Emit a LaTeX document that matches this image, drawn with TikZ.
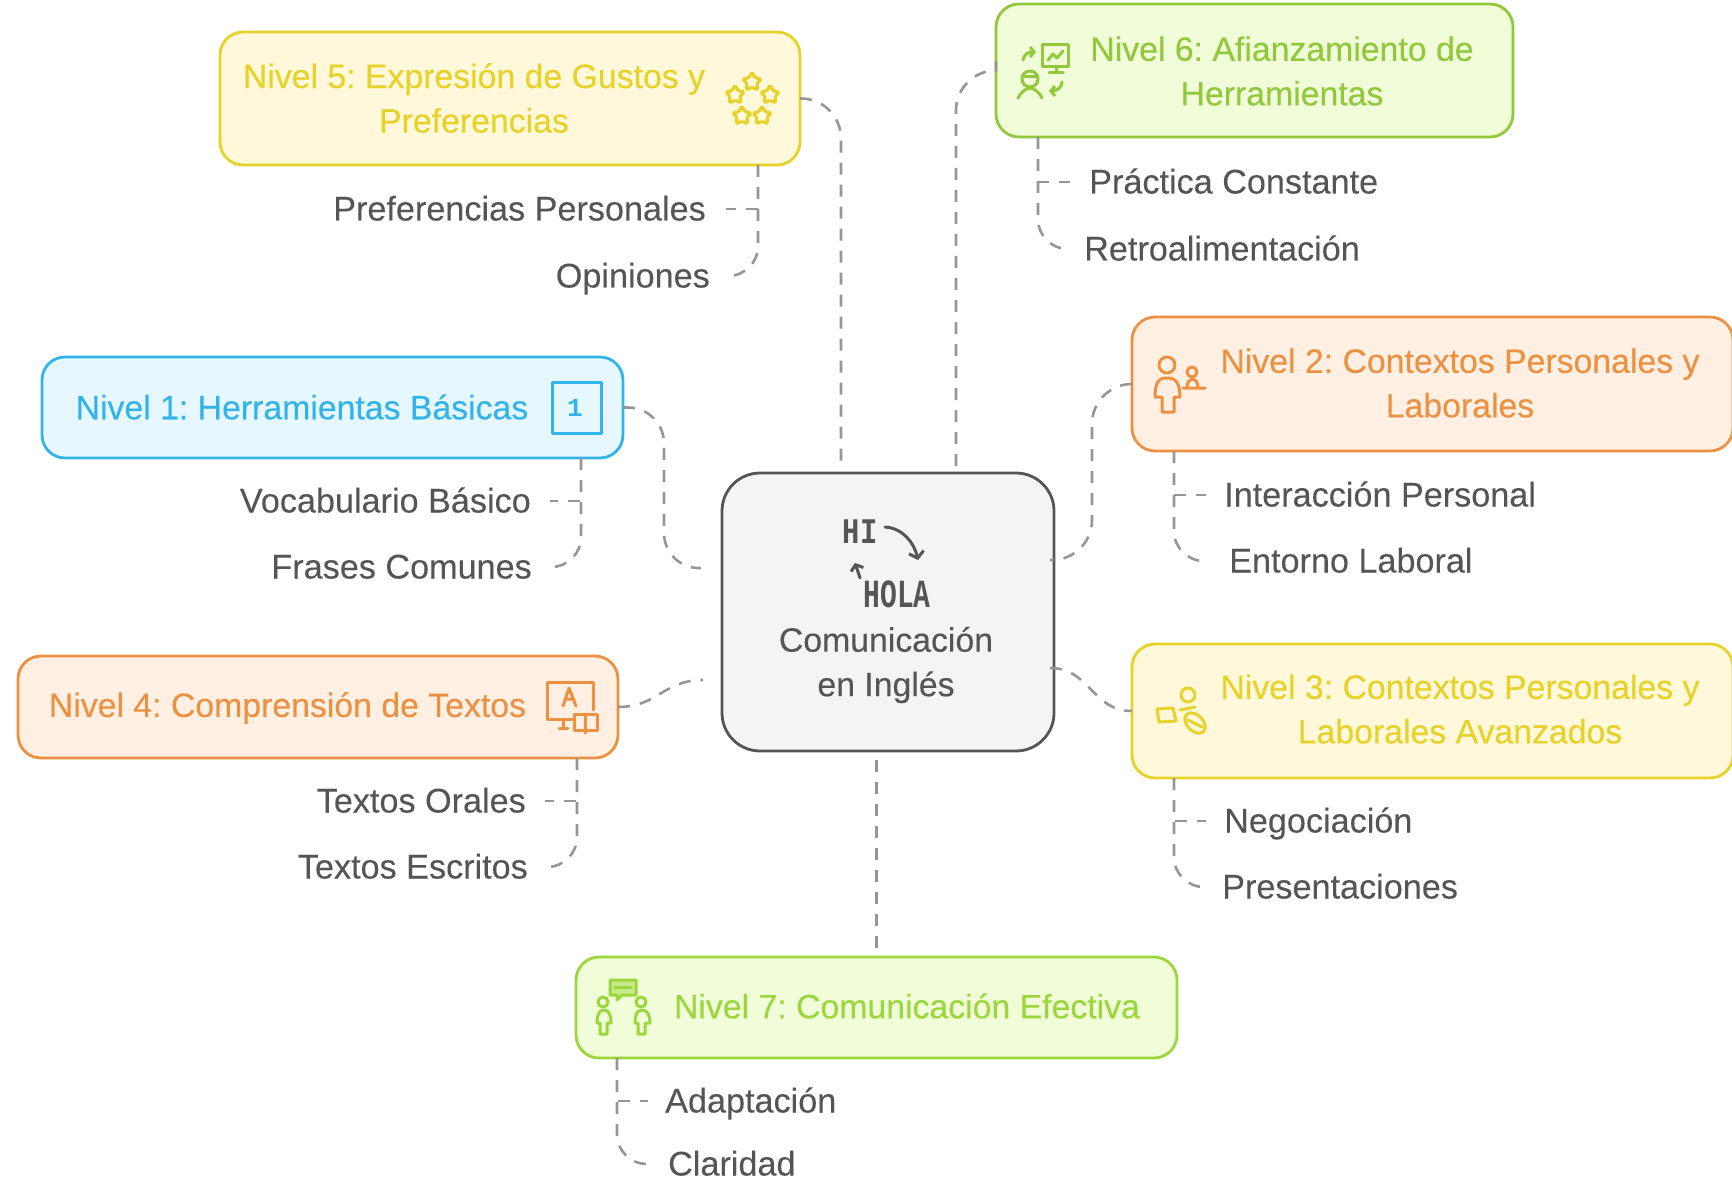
\documentclass[tikz,border=0pt]{standalone}
\usepackage{fontspec}
\setmainfont{Liberation Sans}
\newfontfamily\titlefont[FakeBold=0.2]{Liberation Sans}
\newfontfamily\leaffont[FakeBold=0.08]{Liberation Sans}
\newfontfamily\iconfont{Liberation Mono}
\usetikzlibrary{arrows.meta, shapes.geometric}
\tikzset{>=latex}
\definecolor{myyellow}{RGB}{230, 210, 40}
\definecolor{myyellowbg}{RGB}{255, 248, 218}
\definecolor{mygreen}{RGB}{145, 200, 60}
\definecolor{mygreenbg}{RGB}{240, 253, 216}
\definecolor{mylime}{RGB}{155, 215, 60}
\definecolor{myblue}{RGB}{50, 180, 232}
\definecolor{mybluebg}{RGB}{230, 247, 255}
\definecolor{myorange}{RGB}{235, 145, 65}
\definecolor{myorangebg}{RGB}{255, 240, 227}
\definecolor{mygray1}{RGB}{244, 244, 244}
\definecolor{mygray2}{RGB}{85, 85, 85}
\definecolor{mygray3}{RGB}{150, 150, 150}
\begin{document}
\frenchspacing
\begin{tikzpicture}[
    x = 1pt, y = -1pt,
    box/.style = {draw, rounded corners = 23pt, line width = 2.8pt, inner sep = 0pt, outer sep = 0pt},
    title/.style = {align = center, inner sep = 0pt, font = \titlefont\fontsize{33.8}{44.5}\selectfont},
    leaf/.style = {inner sep = 0pt, text = mygray2, text height = 23pt, text depth = 0pt, font = \leaffont\fontsize{34.2}{44.5}\selectfont},
    link/.style = {draw = mygray3, line width = 2.6pt, dash pattern = on 12pt off 10pt},
    ic/.style = {line width = 3pt, line join = round, line cap = round},
]

\useasboundingbox (0,0) rectangle (1732,1182);

% boxes
\node[box, draw = myyellow, fill = myyellowbg, minimum width = 580, minimum height = 133] (nivel5) at (510, 98.5) {};
\node[box, draw = mygreen, fill = mygreenbg, minimum width = 517, minimum height = 133] (nivel6) at (1254.5, 70.5) {};
\node[box, draw = myblue, fill = mybluebg, minimum width = 581, minimum height = 101] (nivel1) at (332.5, 407.5) {};
\node[box, draw = myorange, fill = myorangebg, minimum width = 600, minimum height = 102] (nivel4) at (318, 707) {};
\node[box, draw = myorange, fill = myorangebg, minimum width = 601, minimum height = 134] (nivel2) at (1432.5, 384) {};
\node[box, draw = myyellow, fill = myyellowbg, minimum width = 601, minimum height = 134] (nivel3) at (1432.5, 711) {};
\node[box, draw = mylime, fill = mygreenbg, minimum width = 601, minimum height = 101] (nivel7) at (876.5, 1007.5) {};
\node[box, draw = mygray2, fill = mygray1, rounded corners = 38pt, minimum width = 332, minimum height = 278] (centre) at (888, 612) {};

% titles
\node[title, text = myyellow] (title5) at (474, 98) {Nivel 5: Expresi\'on de Gustos y\\Preferencias};
\node[title, text = mygreen] (title6) at (1282, 71) {Nivel 6: Afianzamiento de\\Herramientas};
\node[title, text = myblue] (title1) at (302, 407) {Nivel 1: Herramientas B\'asicas};
\node[title, text = myorange] (title4) at (287.5, 708) {Nivel 4: Comprensi\'on de Textos};
\node[title, text = myorange] (title2) at (1460, 383) {Nivel 2: Contextos Personales y\\Laborales};
\node[title, text = myyellow] (title3) at (1460, 709) {Nivel 3: Contextos Personales y\\Laborales Avanzados};
\node[title, text = mylime] (title7) at (907, 1006) {Nivel 7: Comunicaci\'on Efectiva};
\node[title, text = mygray2] (titlec) at (886, 665) {Comunicaci\'on\\en Ingl\'es};

% leaves
\node[leaf, anchor = east] (pref) at (706, 209) {Preferencias Personales};
\node[leaf, anchor = east] (opin) at (710, 276) {Opiniones};
\node[leaf, anchor = west] (prac) at (1089, 182) {Pr\'actica Constante};
\node[leaf, anchor = west] (retro) at (1084, 249) {Retroalimentaci\'on};
\node[leaf, anchor = east] (voca) at (531, 501) {Vocabulario B\'asico};
\node[leaf, anchor = east] (frases) at (532, 567) {Frases Comunes};
\node[leaf, anchor = east] (orales) at (526, 801) {Textos Orales};
\node[leaf, anchor = east] (escritos) at (528, 867) {Textos Escritos};
\node[leaf, anchor = west] (inter) at (1224, 495) {Interacci\'on Personal};
\node[leaf, anchor = west] (entorno) at (1229, 561) {Entorno Laboral};
\node[leaf, anchor = west] (nego) at (1224, 821) {Negociaci\'on};
\node[leaf, anchor = west] (pres) at (1222, 887) {Presentaciones};
\node[leaf, anchor = west] (adap) at (665, 1101) {Adaptaci\'on};
\node[leaf, anchor = west] (clar) at (668, 1164) {Claridad};

% links to the centre
\draw[link, rounded corners = 40pt, shorten > = 11pt] (nivel5.east) -| ([xshift = -47pt]centre.north);
\draw[link, rounded corners = 40pt, shorten < = 7pt, shorten > = 9pt] ([xshift = 68pt]centre.north) |- (nivel6.west);
\draw[link, rounded corners = 36pt] (nivel1.east) -- ++(41, 0) -- ++(0, 161.5) -- ([xshift = -21pt, yshift = 44pt]centre.west);
\draw[link] (nivel4.east) .. controls +(40, 0) and +(-40, 0) .. ([xshift = -19pt, yshift = -68pt]centre.west);
\draw[link, rounded corners = 40pt] (nivel2.west) -- ++(-40, 0) -- ++(0, 176) -- ([xshift = -4pt, yshift = 52pt]centre.east);
\draw[link] ([xshift = -4pt, yshift = -56pt]centre.east) .. controls +(40, 0) and +(-40, 0) .. (nivel3.west);
\draw[link, shorten < = 9pt] (nivel7.north |- centre.south) -- (nivel7.north);

% links to the leaves
\draw[link, shorten > = 20pt] ([xshift = -42pt]nivel5.south east) |- (pref.east);
\draw[link, rounded corners = 30pt, shorten > = 16pt] ([xshift = -42pt]nivel5.south east) |- (opin.east);
\draw[link, shorten > = 19pt] ([xshift = 42pt]nivel6.south west) |- (prac.west);
\draw[link, rounded corners = 30pt, shorten > = 14pt] ([xshift = 42pt]nivel6.south west) |- (retro.west);
\draw[link, shorten > = 19pt] ([xshift = -42pt]nivel1.south east) |- (voca.east);
\draw[link, rounded corners = 30pt, shorten > = 16pt] ([xshift = -42pt]nivel1.south east) |- (frases.east);
\draw[link, shorten > = 19pt] ([xshift = -41pt]nivel4.south east) |- (orales.east);
\draw[link, rounded corners = 30pt, shorten > = 16pt] ([xshift = -41pt]nivel4.south east) |- (escritos.east);
\draw[link, shorten > = 18pt] ([xshift = 42pt]nivel2.south west) |- (inter.west);
\draw[link, rounded corners = 30pt, shorten > = 21pt] ([xshift = 42pt]nivel2.south west) |- (entorno.west);
\draw[link, shorten > = 18pt] ([xshift = 42pt]nivel3.south west) |- (nego.west);
\draw[link, rounded corners = 30pt, shorten > = 16pt] ([xshift = 42pt]nivel3.south west) |- (pres.west);
\draw[link, shorten > = 17pt] ([xshift = 41pt]nivel7.south west) |- (adap.west);
\draw[link, rounded corners = 30pt, shorten > = 20pt] ([xshift = 41pt]nivel7.south west) |- (clar.west);

% icon of the centre
\node[inner sep = 0pt, text = mygray2] (hi) at (860, 532) {\iconfont\bfseries\fontsize{36}{36}\selectfont\scalebox{0.8}[1]{HI}};
\node[inner sep = 0pt, text = mygray2] (hola) at (897, 594) {\iconfont\bfseries\fontsize{40}{40}\selectfont\scalebox{0.7}[1]{HOLA}};
\draw[ic, mygray2, -{Straight Barb[length = 6pt, width = 15pt]}] (885, 527) .. controls (902, 528) and (914, 542) .. (918, 560);
\draw[ic, mygray2, -{Straight Barb[length = 5pt, width = 13pt]}] (860, 578) -- (855, 563);

% icon of level 5
\foreach \sx/\sy/\sn in {752/82/a, 735/95/b, 770/95/c, 742/116/d, 762/116/e}
    \node[star, star points = 5, star point ratio = 1.8, draw = myyellow, line width = 3.2pt, rounded corners = 1.5pt, minimum size = 19pt, inner sep = 0pt] (star\sn) at (\sx, \sy) {};

% icon of level 6
\begin{scope}[ic, mygreen]
\draw (1042, 45) rectangle (1068, 67);
\draw (1056, 67) -- (1056, 73) (1049, 73) -- (1063, 73);
\draw (1048, 60) -- (1053, 54) -- (1057, 58) -- (1063, 51);
\draw[-{Straight Barb[length = 4pt, width = 10pt]}] (1023, 60) .. controls (1024, 54) and (1029, 52) .. (1036, 52);
\draw (1030, 79) circle (8);
\draw (1023, 77) -- (1037, 77);
\draw (1018, 98) .. controls (1021, 92) and (1025, 89) .. (1030, 88) .. controls (1035, 89) and (1039, 92) .. (1042, 98);
\draw[-{Straight Barb[length = 4pt, width = 10pt]}] (1062, 82) .. controls (1062, 88) and (1056, 91) .. (1049, 91);
\end{scope}

% icon of level 1
\draw[ic, myblue] (552, 382) rectangle (601, 433);
\node[inner sep = 0pt, text = myblue] (uno) at (575, 408) {\iconfont\bfseries\fontsize{26}{26}\selectfont 1};

% icon of level 4
\begin{scope}[ic, myorange]
\draw (593, 710) -- (593, 682) -- (547, 682) -- (547, 719) -- (572, 719);
\draw (563, 706) -- (569, 688) -- (576, 706) (565, 699) -- (574, 699);
\draw (563, 719) -- (563, 728) (559, 728) -- (568, 728);
\draw (574, 714) -- (597, 714) -- (597, 730) -- (574, 730) -- cycle;
\draw (585, 714) -- (585, 733);
\end{scope}

% icon of level 2
\begin{scope}[ic, myorange]
\draw (1167, 365) circle (8);
\draw (1166, 378) .. controls (1158, 378) and (1155, 384) .. (1155, 397) -- (1162, 397) -- (1162, 412) -- (1174, 412) -- (1174, 397) -- (1180, 397) .. controls (1180, 384) and (1176, 378) .. (1168, 378) -- cycle;
\draw (1192, 372) circle (5);
\draw (1183, 388) -- (1205, 388) (1187, 388) .. controls (1187, 382) and (1189, 380) .. (1192, 379) .. controls (1196, 380) and (1198, 382) .. (1198, 388);
\end{scope}

% icon of level 3
\begin{scope}[ic, myyellow]
\draw (1188, 695) circle (7);
\draw (1157, 709) -- (1173, 708) -- (1176, 721) -- (1159, 722) -- cycle;
\draw (1180, 710) -- (1195, 707);
\draw[rotate around = {-45:(1195, 723)}] (1195, 723) ellipse (12 and 8);
\draw (1188, 720) -- (1202, 727);
\end{scope}

% icon of level 7
\begin{scope}[ic, mylime]
\draw[fill = mylime!50!mygreenbg] (610, 980) -- (636, 980) -- (636, 995) -- (622, 995) -- (617, 1000) -- (617, 995) -- (610, 995) -- cycle;
\draw (615, 987) -- (631, 987);
\draw (603, 1002) circle (5);
\draw (641, 1002) circle (5);
\draw (604, 1010) .. controls (599, 1010) and (597, 1015) .. (597, 1023) -- (600, 1023) -- (600, 1034) -- (607, 1034) -- (607, 1023) -- (611, 1023) .. controls (611, 1015) and (609, 1010) .. (604, 1010);
\draw (642, 1010) .. controls (637, 1010) and (635, 1015) .. (635, 1023) -- (638, 1023) -- (638, 1034) -- (645, 1034) -- (645, 1023) -- (650, 1023) .. controls (650, 1015) and (647, 1010) .. (642, 1010);
\end{scope}

\end{tikzpicture}
\end{document}
